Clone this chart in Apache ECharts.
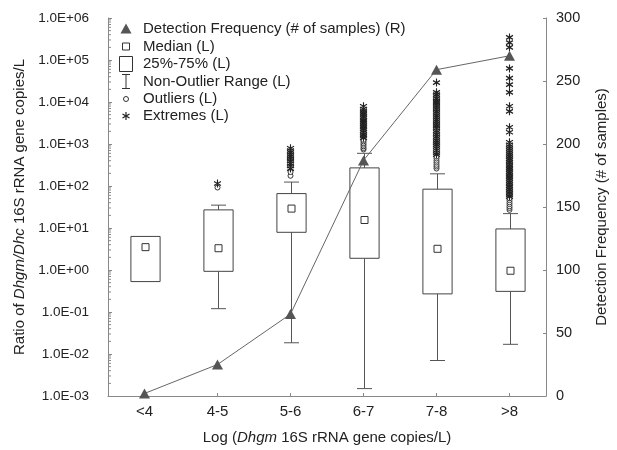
<!DOCTYPE html>
<html><head><meta charset="utf-8">
<script src="https://cdn.jsdelivr.net/npm/echarts@6/dist/echarts.min.js"></script>
<style>html,body{margin:0;padding:0;background:#fff}#c{width:617px;height:450px}</style>
</head><body><div id="c"></div>
<script>
// ---------- data ----------
const categories = ['<4', '4-5', '5-6', '6-7', '7-8', '>8'];
const q1Values = [0.53, 0.93, 7.9, 1.9, 0.27, 0.31];
const q3Values = [6.3, 27, 66, 270, 84, 9.5];
const medianValues = [3.5, 3.3, 29, 15.5, 3.2, 0.96];
const whiskerLow = [null, 0.12, 0.0185, 0.0015, 0.0070, 0.017];
const whiskerHigh = [null, 35, 124, 600, 195, 22];
const detectionFrequency = [2, 25, 65, 187, 259, 270];

const outliers = [
  [],
  [92],
  [175, 215],
  [740, 800, 880, 960, 1050, 1150, 1250],
  [260, 290, 320, 360, 400, 450, 500],
  [27, 30, 33, 37, 41, 46, 51]
];
const extremes = [
  [],
  [115],
  [260, 300, 340, 390, 440, 500, 560, 630, 700, 790],
  [1400, 1550, 1700, 1900, 2100, 2300, 2550, 2800, 3100, 3400, 3700, 4100, 4500, 5000, 5500, 6100, 6800, 7900],
  [560, 620, 700, 780, 870, 970, 1080, 1200, 1350, 1500, 1700, 1900, 2100, 2400, 2700, 3000, 3400, 3800, 4300, 4800, 5400, 6000, 6800, 7600, 8500, 9500, 10500, 12000, 13500, 15000, 17000, 29000],
  [56, 62, 68, 75, 83, 92, 100, 110, 122, 135, 150, 165, 180, 200, 220, 245, 270, 300, 330, 370, 410, 450, 500, 560, 620, 690, 770, 860, 960, 1100, 1900, 2500, 6000, 7900, 17000, 26000, 37000, 63000, 200000, 260000, 345000]
];
const leftTickLabels = ['1.0E-03','1.0E-02','1.0E-01','1.0E+00','1.0E+01','1.0E+02','1.0E+03','1.0E+04','1.0E+05','1.0E+06'];
const legendLabels = ['Detection Frequency (# of samples) (R)', 'Median (L)', '25%-75% (L)', 'Non-Outlier Range (L)', 'Outliers (L)', 'Extremes (L)'];

// ---------- helpers ----------
const FONT = '"Liberation Sans", Arial, sans-serif';
const TXT = '#222';
const AX = '#888';

const boxData = categories.map((c, i) => [i, q1Values[i], q3Values[i]]);
const medData = categories.map((c, i) => [i, medianValues[i]]);
const whiskData = categories.map((c, i) => [i, whiskerLow[i], whiskerHigh[i], q1Values[i], q3Values[i]]);
const outData = [];
outliers.forEach((arr, i) => arr.forEach(v => outData.push([i, v])));
const extData = [];
extremes.forEach((arr, i) => arr.forEach(v => extData.push([i, v])));

// minor log ticks (axis decoration)
const minorTicks = [];
for (let e = -3; e < 6; e++) for (let k = 2; k <= 9; k++) minorTicks.push([0, k * Math.pow(10, e)]);

function fmtLog(v) {
  const e = Math.round(Math.log10(v));
  const idx = e + 3;
  return leftTickLabels[idx] !== undefined ? leftTickLabels[idx] : '';
}

const chart = echarts.init(document.getElementById('c'), null, { renderer: 'canvas' });

const legendRowY = [29, 46.5, 64, 81.5, 99, 116];
const legendTextX = 143;
const lc = 126;
const graphic = [
  { type: 'polygon', shape: { points: [[lc, legendRowY[0] - 5.5], [lc + 5.5, legendRowY[0] + 4.5], [lc - 5.5, legendRowY[0] + 4.5]] }, style: { fill: '#555' } },
  { type: 'rect', shape: { x: lc - 3.5, y: legendRowY[1] - 3.5, width: 7, height: 7 }, style: { fill: 'none', stroke: '#333', lineWidth: 1 } },
  { type: 'rect', shape: { x: lc - 6.5, y: legendRowY[2] - 7.5, width: 13, height: 15 }, style: { fill: 'none', stroke: '#333', lineWidth: 1 } },
  { type: 'line', shape: { x1: lc, y1: legendRowY[3] - 7, x2: lc, y2: legendRowY[3] + 7 }, style: { stroke: '#333', lineWidth: 1 } },
  { type: 'line', shape: { x1: lc - 4, y1: legendRowY[3] - 7, x2: lc + 4, y2: legendRowY[3] - 7 }, style: { stroke: '#333', lineWidth: 1 } },
  { type: 'line', shape: { x1: lc - 4, y1: legendRowY[3] + 7, x2: lc + 4, y2: legendRowY[3] + 7 }, style: { stroke: '#333', lineWidth: 1 } },
  { type: 'circle', shape: { cx: lc, cy: legendRowY[4], r: 2.5 }, style: { fill: '#fff', stroke: '#333', lineWidth: 1 } },
  { type: 'line', shape: { x1: lc, y1: legendRowY[5] - 4, x2: lc, y2: legendRowY[5] + 4 }, style: { stroke: '#222', lineWidth: 1.2 } },
  { type: 'line', shape: { x1: lc - 3.5, y1: legendRowY[5] - 2, x2: lc + 3.5, y2: legendRowY[5] + 2 }, style: { stroke: '#222', lineWidth: 1.2 } },
  { type: 'line', shape: { x1: lc - 3.5, y1: legendRowY[5] + 2, x2: lc + 3.5, y2: legendRowY[5] - 2 }, style: { stroke: '#222', lineWidth: 1.2 } }
];
legendLabels.forEach((t, i) => {
  graphic.push({ type: 'text', x: legendTextX, y: legendRowY[i], style: { text: t, fill: TXT, fontSize: 15, fontFamily: FONT, verticalAlign: 'middle', align: 'left' } });
});

const option = {
  backgroundColor: '#fff',
  animation: false,
  grid: { left: 108, right: 62, top: 18, bottom: 49, containLabel: false },
  xAxis: {
    type: 'category',
    data: categories,
    name: 'Log ({i|Dhgm} 16S rRNA gene copies/L)',
    nameLocation: 'middle',
    nameGap: 34,
    nameTextStyle: { color: TXT, fontSize: 15, fontFamily: FONT, rich: { i: { fontStyle: 'italic', fontSize: 15, fontFamily: FONT, color: TXT } } },
    axisLine: { lineStyle: { color: AX, width: 1 } },
    axisTick: { show: true, inside: true, alignWithLabel: true, length: 3, lineStyle: { color: AX } },
    axisLabel: { color: TXT, fontSize: 15, fontFamily: FONT, margin: 8 },
    splitLine: { show: false }
  },
  yAxis: [
    {
      type: 'log',
      logBase: 10,
      min: 0.001,
      max: 1000000,
      interval: 1,
      splitNumber: 9,
      name: 'Ratio of {i|Dhgm/Dhc} 16S rRNA gene copies/L',
      nameLocation: 'middle',
      nameGap: 81,
      nameTextStyle: { color: TXT, fontSize: 15, fontFamily: FONT, rich: { i: { fontStyle: 'italic', fontSize: 15, fontFamily: FONT, color: TXT } } },
      axisLine: { show: true, lineStyle: { color: AX, width: 1 } },
      axisTick: { show: true, inside: true, length: 4, lineStyle: { color: AX } },
      axisLabel: { color: TXT, fontSize: 13.5, fontFamily: FONT, margin: 19, formatter: fmtLog },
      splitLine: { show: false }
    },
    {
      type: 'value',
      min: 0,
      max: 300,
      interval: 50,
      position: 'right',
      name: 'Detection Frequency (# of samples)',
      nameLocation: 'middle',
      nameGap: 48,
      nameRotate: 90,
      nameTextStyle: { color: TXT, fontSize: 15, fontFamily: FONT },
      axisLine: { show: true, lineStyle: { color: AX, width: 1 } },
      axisTick: { show: true, inside: true, length: 3, lineStyle: { color: AX } },
      axisLabel: { color: TXT, fontSize: 14.5, fontFamily: FONT, margin: 10 },
      splitLine: { show: false }
    }
  ],
  graphic: graphic,
  series: [
    {
      name: 'minorTicks',
      type: 'custom',
      silent: true,
      data: minorTicks,
      z: 3,
      renderItem: function (params, api) {
        const p = api.coord([0, api.value(1)]);
        const x0 = params.coordSys.x;
        return { type: 'line', shape: { x1: x0, y1: p[1], x2: x0 + 3, y2: p[1] }, style: { stroke: AX, lineWidth: 1 } };
      }
    },
    {
      name: 'Non-Outlier Range (L)',
      type: 'custom',
      data: whiskData,
      z: 2,
      renderItem: function (params, api) {
        const lo = api.value(1), hi = api.value(2);
        if (lo == null || isNaN(lo) || hi == null || isNaN(hi)) return null;
        const x = api.value(0);
        const pLo = api.coord([x, lo]);
        const pHi = api.coord([x, hi]);
        const pQ1 = api.coord([x, api.value(3)]);
        const pQ3 = api.coord([x, api.value(4)]);
        const cx = Math.round(pLo[0]) + 0.5;
        const hw = 7.5;
        const st = { stroke: '#555', lineWidth: 1 };
        return {
          type: 'group',
          children: [
            { type: 'line', shape: { x1: cx, y1: pLo[1], x2: cx, y2: pQ1[1] }, style: st },
            { type: 'line', shape: { x1: cx, y1: pQ3[1], x2: cx, y2: pHi[1] }, style: st },
            { type: 'line', shape: { x1: cx - hw, y1: pLo[1], x2: cx + hw, y2: pLo[1] }, style: st },
            { type: 'line', shape: { x1: cx - hw, y1: pHi[1], x2: cx + hw, y2: pHi[1] }, style: st }
          ]
        };
      }
    },
    {
      name: '25%-75% (L)',
      type: 'custom',
      data: boxData,
      z: 3,
      renderItem: function (params, api) {
        const x = api.value(0);
        const p1 = api.coord([x, api.value(1)]);
        const p3 = api.coord([x, api.value(2)]);
        const w = api.size([1, 0])[0] * 0.4;
        const cx = Math.round(p1[0]) + 0.5;
        return { type: 'rect', shape: { x: cx - w / 2, y: p3[1], width: w, height: p1[1] - p3[1] }, style: { fill: '#fff', stroke: '#444', lineWidth: 1 } };
      }
    },
    {
      name: 'Median (L)',
      type: 'custom',
      data: medData,
      z: 4,
      renderItem: function (params, api) {
        const p = api.coord([api.value(0), api.value(1)]);
        const cx = Math.round(p[0]) + 0.5;
        return { type: 'rect', shape: { x: cx - 3.5, y: p[1] - 3.5, width: 7, height: 7 }, style: { fill: '#fff', stroke: '#333', lineWidth: 1 } };
      }
    },
    {
      name: 'Outliers (L)',
      type: 'scatter',
      data: outData,
      symbol: 'circle',
      symbolSize: 5,
      z: 5,
      itemStyle: { color: '#fff', borderColor: '#333', borderWidth: 1, opacity: 1 }
    },
    {
      name: 'Extremes (L)',
      type: 'scatter',
      data: extData,
      symbol: 'path://M5,0L5,10M0.67,2.5L9.33,7.5M0.67,7.5L9.33,2.5',
      symbolSize: [7, 8],
      z: 5,
      itemStyle: { color: 'none', borderColor: '#222', borderWidth: 1.2, opacity: 1 }
    },
    {
      name: 'Detection Frequency (# of samples) (R)',
      type: 'line',
      yAxisIndex: 1,
      data: detectionFrequency,
      symbol: 'triangle',
      symbolSize: [11, 10],
      z: 10,
      lineStyle: { color: '#666', width: 1 },
      itemStyle: { color: '#555' }
    }
  ]
};
chart.setOption(option);
</script>
</body></html>
